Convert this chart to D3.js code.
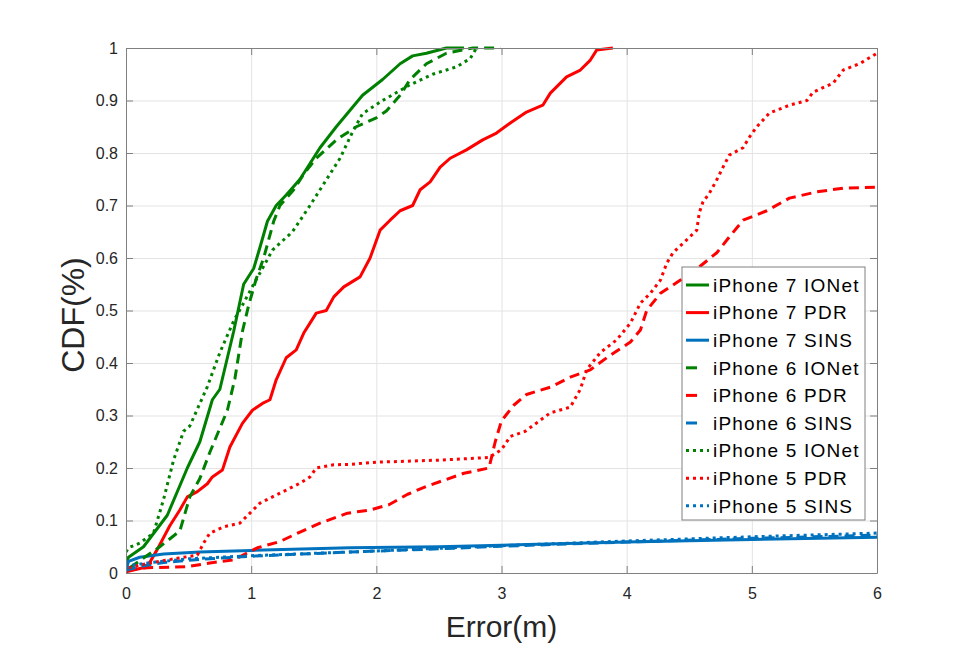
<!DOCTYPE html>
<html lang="en">
<head>
  <meta charset="utf-8">
  <title>CDF of error</title>
  <script src="https://cdn.jsdelivr.net/npm/d3@7/dist/d3.min.js"></script>
  <style>
    body { margin: 0; background: #fff; }
    text { font-family: "Liberation Sans", Arial, sans-serif; }
    .grid line { stroke: #e3e3e3; stroke-width: 1; }
    .grid path { display: none; }
  </style>
</head>
<body>
  <script>
    // error (m) / CDF pairs
    var i7IONet = [[0,0.02],[0.02,0.03],[0.14,0.05],[0.33,0.11],[0.49,0.2],[0.59,0.25],[0.69,0.33],[0.75,0.35],[0.86,0.46],[0.94,0.55],[1.02,0.58],[1.07,0.62],[1.13,0.67],[1.2,0.7],[1.28,0.72],[1.39,0.75],[1.55,0.81],[1.68,0.85],[1.89,0.91],[2.05,0.94],[2.19,0.97],[2.29,0.985],[2.4,0.99],[2.56,1.0],[2.7,1.0]];
    var i7PDR = [[0,0.0],[0.01,0.003],[0.17,0.012],[0.25,0.045],[0.35,0.09],[0.43,0.12],[0.49,0.145],[0.57,0.155],[0.65,0.17],[0.69,0.183],[0.77,0.196],[0.83,0.24],[0.93,0.285],[1.01,0.31],[1.09,0.323],[1.15,0.33],[1.2,0.368],[1.28,0.41],[1.36,0.425],[1.42,0.457],[1.47,0.476],[1.52,0.495],[1.6,0.5],[1.66,0.526],[1.74,0.545],[1.87,0.564],[1.95,0.6],[2.03,0.653],[2.11,0.672],[2.19,0.69],[2.29,0.7],[2.35,0.73],[2.43,0.745],[2.51,0.773],[2.59,0.79],[2.72,0.806],[2.85,0.825],[2.96,0.838],[3.07,0.857],[3.2,0.878],[3.33,0.891],[3.39,0.914],[3.47,0.933],[3.52,0.945],[3.63,0.958],[3.71,0.977],[3.76,0.996],[3.89,1.0]];
    var i7SINS = [[0,0.005],[0.02,0.022],[0.11,0.03],[0.3,0.036],[0.59,0.04],[1,0.043],[1.79,0.048],[2.5,0.05],[3,0.053],[4,0.059],[5,0.064],[6,0.068]];
    var i6IONet = [[0.03,0.01],[0.27,0.05],[0.43,0.08],[0.51,0.145],[0.59,0.18],[0.67,0.23],[0.81,0.31],[0.87,0.37],[0.93,0.46],[0.98,0.51],[1.04,0.56],[1.1,0.6],[1.18,0.67],[1.23,0.7],[1.34,0.73],[1.42,0.76],[1.52,0.79],[1.68,0.825],[1.84,0.85],[2.0,0.867],[2.08,0.88],[2.19,0.91],[2.27,0.94],[2.4,0.97],[2.56,0.99],[2.77,1.0],[2.99,1.0]];
    var i6PDR = [[0.01,0.006],[0.17,0.01],[0.49,0.012],[0.67,0.019],[0.86,0.025],[1.05,0.048],[1.23,0.06],[1.39,0.078],[1.55,0.095],[1.77,0.114],[1.95,0.12],[2.1,0.13],[2.25,0.15],[2.4,0.165],[2.7,0.19],[2.9,0.2],[2.95,0.25],[3.0,0.29],[3.1,0.32],[3.2,0.34],[3.39,0.354],[3.55,0.373],[3.71,0.387],[3.87,0.415],[4.03,0.44],[4.11,0.463],[4.16,0.5],[4.27,0.533],[4.43,0.558],[4.58,0.583],[4.72,0.61],[4.82,0.64],[4.93,0.672],[5.12,0.69],[5.3,0.714],[5.52,0.726],[5.73,0.733],[6.0,0.735]];
    var i6SINS = [[0,0.005],[0.1,0.012],[0.3,0.02],[0.6,0.026],[1,0.032],[1.79,0.04],[2.5,0.046],[3,0.051],[4,0.059],[5,0.066],[6,0.072]];
    var i5IONet = [[0,0.04],[0.02,0.048],[0.11,0.057],[0.22,0.076],[0.3,0.14],[0.38,0.215],[0.46,0.27],[0.51,0.28],[0.65,0.355],[0.75,0.42],[0.86,0.48],[0.93,0.51],[1.02,0.55],[1.09,0.58],[1.17,0.615],[1.33,0.65],[1.47,0.7],[1.55,0.73],[1.71,0.79],[1.81,0.84],[1.89,0.875],[2.05,0.9],[2.27,0.93],[2.45,0.95],[2.64,0.964],[2.75,0.98],[2.8,1.0]];
    var i5PDR = [[0.02,0.01],[0.19,0.019],[0.41,0.028],[0.57,0.034],[0.62,0.057],[0.67,0.076],[0.78,0.088],[0.91,0.095],[0.99,0.114],[1.07,0.133],[1.17,0.145],[1.28,0.158],[1.39,0.171],[1.47,0.183],[1.52,0.2],[1.66,0.206],[1.79,0.207],[2.0,0.211],[2.5,0.215],[2.9,0.22],[3.0,0.235],[3.07,0.26],[3.19,0.27],[3.39,0.305],[3.55,0.316],[3.63,0.35],[3.68,0.387],[3.79,0.42],[3.92,0.444],[4.03,0.476],[4.11,0.514],[4.19,0.533],[4.27,0.558],[4.32,0.59],[4.37,0.61],[4.45,0.628],[4.56,0.653],[4.58,0.686],[4.61,0.707],[4.66,0.723],[4.72,0.749],[4.77,0.773],[4.82,0.796],[4.93,0.81],[4.98,0.83],[5.04,0.85],[5.14,0.876],[5.3,0.891],[5.44,0.9],[5.49,0.916],[5.65,0.933],[5.73,0.958],[5.86,0.97],[6.0,0.99]];
    var i5SINS = [[0,0.01],[0.05,0.015],[0.2,0.02],[0.5,0.027],[1,0.033],[1.8,0.04],[2.5,0.047],[3,0.052],[4,0.061],[5,0.069],[6,0.076]];

    var seriesNames = ["iPhone 7 IONet", "iPhone 7 PDR", "iPhone 7 SINS",
                       "iPhone 6 IONet", "iPhone 6 PDR", "iPhone 6 SINS",
                       "iPhone 5 IONet", "iPhone 5 PDR", "iPhone 5 SINS"];
    var seriesData = [i7IONet, i7PDR, i7SINS, i6IONet, i6PDR, i6SINS, i5IONet, i5PDR, i5SINS];
    var xTicks = [0, 1, 2, 3, 4, 5, 6];
    var yTicks = [0, 0.1, 0.2, 0.3, 0.4, 0.5, 0.6, 0.7, 0.8, 0.9, 1];

    var colors = ["#008000", "#ff0000", "#0072bd"];
    var dashes = [null, "10,6", "3,4"];

    var w = 969;
    var h = 646;
    var margin = { top: 48, left: 126, right: 92, bottom: 73 };
    var width = w - margin.left - margin.right;
    var height = h - margin.top - margin.bottom;

    var svg = d3.select("body").append("svg")
                .attr("width", w)
                .attr("height", h);
    var chart = svg.append("g")
                   .attr("transform", "translate(" + margin.left + "," + margin.top + ")");

    var x = d3.scaleLinear().domain([0, 6]).range([0, width]);
    var y = d3.scaleLinear().domain([0, 1]).range([height, 0]);

    // gridlines
    chart.append("g")
         .classed("grid", true)
         .attr("transform", "translate(0," + height + ")")
         .call(d3.axisBottom(x).tickValues(xTicks).tickSize(-height).tickFormat(""));
    chart.append("g")
         .classed("grid", true)
         .call(d3.axisLeft(y).tickValues(yTicks).tickSize(-width).tickFormat(""));

    svg.append("clipPath").attr("id", "clip")
       .append("rect").attr("x", 0).attr("y", -2).attr("width", width).attr("height", height + 2);

    var line = d3.line()
                 .x(function (d) { return x(d[0]); })
                 .y(function (d) { return y(d[1]); });

    var lines = chart.append("g").attr("clip-path", "url(#clip)");
    seriesData.forEach(function (data, idx) {
      lines.append("path")
           .datum(data)
           .attr("d", line)
           .attr("fill", "none")
           .attr("stroke", colors[idx % 3])
           .attr("stroke-width", 3)
           .attr("stroke-linejoin", "round")
           .attr("stroke-dasharray", dashes[Math.floor(idx / 3)]);
    });

    // axes with inward ticks on all four sides
    function styleAxis(g) {
      g.select(".domain").attr("stroke", "#808080");
      g.selectAll(".tick line").attr("stroke", "#808080");
      g.selectAll(".tick text")
       .attr("fill", "#262626")
       .style("font-size", "16px");
    }
    chart.append("g")
         .attr("transform", "translate(0," + height + ")")
         .call(d3.axisBottom(x).tickValues(xTicks).tickSize(-7).tickSizeOuter(0).tickPadding(15)
                 .tickFormat(d3.format("d")))
         .call(styleAxis);
    chart.append("g")
         .call(d3.axisTop(x).tickValues(xTicks).tickSize(-7).tickSizeOuter(0).tickFormat(""))
         .call(styleAxis);
    chart.append("g")
         .call(d3.axisLeft(y).tickValues(yTicks).tickSize(-7).tickSizeOuter(0).tickPadding(8)
                 .tickFormat(function (d) { return d === 0 || d === 1 ? d : d.toFixed(1); }))
         .call(styleAxis);
    chart.append("g")
         .attr("transform", "translate(" + width + ",0)")
         .call(d3.axisRight(y).tickValues(yTicks).tickSize(-7).tickSizeOuter(0).tickFormat(""))
         .call(styleAxis);

    // axis labels
    svg.append("text")
       .attr("x", margin.left + width / 2)
       .attr("y", 637)
       .attr("text-anchor", "middle")
       .attr("fill", "#262626")
       .style("font-size", "30px")
       .text("Error(m)");
    svg.append("text")
       .attr("transform", "translate(84,315) rotate(-90)")
       .attr("text-anchor", "middle")
       .attr("fill", "#262626")
       .style("font-size", "32px")
       .text("CDF(%)");

    // legend
    var legend = svg.append("g").attr("transform", "translate(682,267)");
    legend.append("rect")
          .attr("width", 183)
          .attr("height", 253)
          .attr("fill", "#fff")
          .attr("stroke", "#808080")
          .attr("stroke-width", 1);
    seriesNames.forEach(function (name, idx) {
      var ly = 18 + idx * 27.6;
      var style = Math.floor(idx / 3);
      legend.append("line")
            .attr("x1", 4)
            .attr("x2", style === 1 ? 15 : 27)
            .attr("y1", ly)
            .attr("y2", ly)
            .attr("stroke", colors[idx % 3])
            .attr("stroke-width", 3)
            .attr("stroke-dasharray", style === 2 ? "3,4" : null);
      legend.append("text")
            .attr("x", 31)
            .attr("y", ly)
            .attr("dy", "0.36em")
            .attr("fill", "#000")
            .style("font-size", "19px")
            .style("letter-spacing", "1.2px")
            .text(name);
    });
  </script>
</body>
</html>
